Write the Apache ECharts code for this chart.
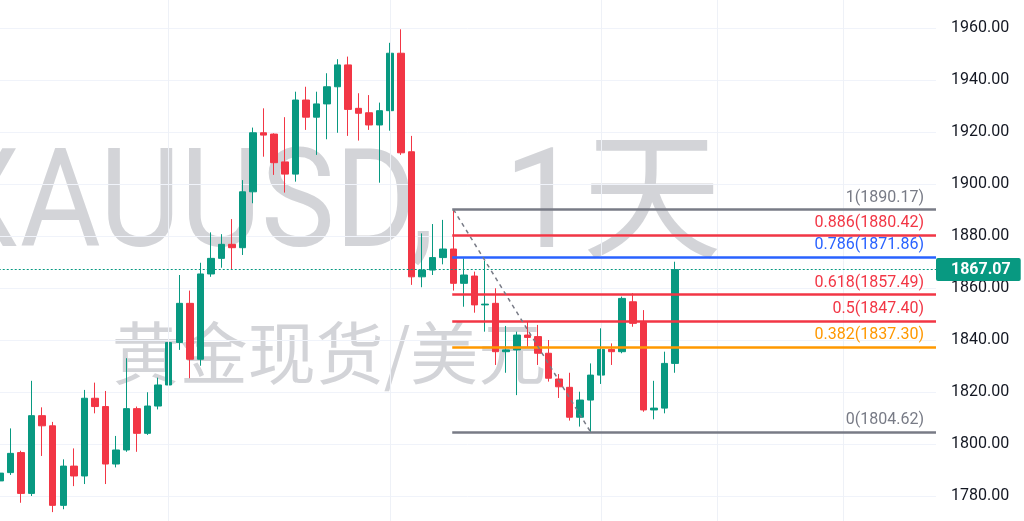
<!DOCTYPE html>
<html>
<head>
<meta charset="utf-8">
<script src="https://cdn.jsdelivr.net/npm/echarts@6/dist/echarts.min.js"></script>
<style>
html,body{margin:0;padding:0;background:#fff;}
#chart{width:1024px;height:521px;}
</style>
</head>
<body>
<div id="chart"></div>
<script>
// Daily candles (index 0 = leftmost visible candle)
const opens  = [1785.8,1789.0,1796.7,1781.0,1810.9,1807.0,1776.4,1791.5,1787.7,1817.6,
                1814.4,1792.3,1797.7,1813.6,1804.1,1814.6,1822.7,1839.0,1854.1,1832.6,
                1865.4,1871.4,1876.8,1875.5,1897.0,1919.7,1919.2,1908.5,1903.8,1932.3,
                1925.7,1930.8,1937.4,1945.8,1929.1,1927.4,1922.7,1928.2,1950.3,1912.4,
                1864.3,1866.9,1871.7,1875.0,1861.8,1864.6,1853.5,1854.1,1835.5,1836.2,
                1841.9,1841.3,1834.9,1825.0,1821.8,1810.3,1816.9,1826.5,1836.4,1835.5,
                1854.7,1846.7,1813.1,1813.8,1831.0];
const closes = [1788.8,1796.4,1781.0,1810.9,1807.0,1776.4,1791.5,1787.7,1817.6,1814.4,
                1792.3,1797.7,1813.6,1804.1,1814.6,1822.7,1839.0,1854.1,1832.6,1865.4,
                1871.4,1876.8,1875.5,1897.0,1919.7,1918.8,1908.2,1903.8,1932.3,1925.7,
                1930.8,1937.4,1945.8,1928.7,1927.2,1922.7,1928.2,1950.3,1912.0,1864.3,
                1866.9,1871.7,1875.0,1861.8,1865.0,1853.5,1853.8,1835.5,1836.2,1841.9,
                1841.0,1834.9,1825.3,1822.0,1810.3,1816.9,1826.5,1836.4,1835.5,1856.0,
                1846.4,1813.1,1813.8,1831.0,1867.07];
const lows   = [1782.3,1788.1,1777.4,1780.0,1795.4,1773.8,1774.9,1783.8,1784.6,1811.8,
                1784.6,1791.0,1797.0,1797.0,1803.5,1813.3,1822.5,1836.2,1825.3,1830.1,
                1864.3,1867.8,1867.2,1872.7,1892.6,1910.5,1903.5,1896.7,1900.9,1920.8,
                1911.2,1917.2,1919.7,1918.5,1916.7,1920.8,1900.5,1920.5,1911.2,1861.2,
                1860.3,1865.0,1869.1,1859.0,1852.8,1850.5,1843.2,1830.4,1827.4,1818.8,
                1837.4,1830.4,1824.0,1817.7,1809.0,1806.7,1804.62,1823.1,1830.4,1834.9,
                1845.1,1812.4,1809.5,1811.8,1827.4];
const highs  = [1794.6,1806.0,1797.4,1824.3,1814.1,1808.5,1794.1,1798.3,1820.8,1823.6,
                1820.4,1803.1,1833.0,1814.4,1819.9,1825.5,1849.6,1865.0,1859.0,1869.7,
                1881.4,1880.7,1886.5,1901.5,1921.7,1929.1,1919.5,1925.7,1935.5,1937.4,
                1935.5,1942.6,1948.0,1949.0,1934.9,1934.2,1931.3,1954.3,1959.5,1918.5,
                1881.0,1884.6,1886.2,1890.17,1871.4,1866.3,1870.4,1859.9,1845.4,1843.2,
                1847.0,1845.8,1840.0,1826.9,1827.4,1820.1,1831.0,1844.5,1838.7,1856.7,
                1858.0,1851.5,1824.3,1835.5,1870.1];

// Fibonacci retracement (from candle 43 high to candle 56 low)
const fibRatios = ['1','0.886','0.786','0.618','0.5','0.382','0'];
const fibLevels = [1890.17,1880.42,1871.86,1857.49,1847.40,1837.30,1804.62];
const fibStartIndex = 43;
const swingLowIndex = 56;
const lastPrice = 1867.07;
const timeGridIdx = [16,37,57,68,80];

// y-axis ticks
const yMin = 1760, yMax = 1980, yStep = 20;

const fibColors = ['#787b86','#f23645','#2962ff','#f23645','#f23645','#ff9800','#787b86'];
const UP = '#089981', DOWN = '#f23645';
const WM = 'rgba(150,153,162,0.42)';

const candleData = opens.map((o, i) => [i, o, closes[i], lows[i], highs[i]]);

const xMin = -0.5, xMax = 88.75;

const markLines = [];
timeGridIdx.forEach(v => markLines.push({
  xAxis: v, lineStyle: {color: '#eef1f7', width: 1, type: 'solid'}, label: {show: false}
}));
fibLevels.forEach((lv, k) => {
  const ls = {color: fibColors[k], width: 2.5, type: 'solid'};
  markLines.push([
    {coord: [fibStartIndex - 0.12, lv], lineStyle: ls,
     label: {show: true, position: 'insideEndTop', distance: [12, 4],
             formatter: fibRatios[k] + '(' + lv.toFixed(2) + ')',
             color: fibColors[k], fontSize: 16, fontFamily: 'Roboto'}},
    {coord: [xMax, lv], lineStyle: ls}
  ]);
});
markLines.push([
  {coord: [fibStartIndex, fibLevels[0]], lineStyle: {color: '#787b86', width: 1.5, type: [4, 4]}, label: {show: false}},
  {coord: [swingLowIndex, fibLevels[6]], lineStyle: {color: '#787b86', width: 1.5, type: [4, 4]}}
]);
markLines.push({
  yAxis: lastPrice,
  lineStyle: {color: UP, width: 1, type: [2, 2]},
  label: {show: true, position: 'end', distance: 0, formatter: lastPrice.toFixed(2),
          backgroundColor: UP, color: '#fff', fontSize: 16, fontWeight: 'bold',
          fontFamily: 'Roboto', padding: [4, 10, 3, 15], borderRadius: 2}
});

const chart = echarts.init(document.getElementById('chart'), null, {renderer: 'canvas'});
chart.setOption({
  animation: false,
  backgroundColor: '#ffffff',
  grid: {left: -5.27, top: -24, width: 941.27, height: 572, containLabel: false, outerBoundsMode: 'none'},
  xAxis: {type: 'value', min: xMin, max: xMax, show: false, splitLine: {show: false}},
  yAxis: {
    type: 'value', position: 'right', min: yMin, max: yMax, interval: yStep, scale: true,
    axisLine: {show: false}, axisTick: {show: false},
    splitLine: {show: true, lineStyle: {color: '#f0f3fa', width: 1}},
    axisLabel: {color: '#131722', fontSize: 16, fontFamily: 'Roboto', margin: 15,
                formatter: v => v.toFixed(2)}
  },
  graphic: [
    {type: 'text', x: -58, y: 211, scaleX: 0.9, z: 0, silent: true,
     style: {text: 'XAUUSD,', font: '138px Roboto', fill: WM, textAlign: 'left', textVerticalAlign: 'middle'}},
    {type: 'text', x: 722, y: 212, z: 0, silent: true,
     style: {text: '1天', font: '140px Roboto, "Noto Sans CJK SC"', fill: WM, textAlign: 'right', textVerticalAlign: 'middle'}},
    {type: 'text', x: 329, y: 353, z: 0, silent: true,
     style: {text: '黄金现货/美元', font: '68px "Noto Sans CJK SC"', fill: WM, textAlign: 'center', textVerticalAlign: 'middle'}}
  ],
  series: [
    {
      type: 'line', data: [], z: 1, clip: false, silent: true,
      markLine: {symbol: ['none', 'none'], silent: true, animation: false, data: markLines}
    },
    {
      type: 'candlestick', data: candleData, encode: {x: 0, y: [1, 2, 3, 4]},
      barWidth: 7, z: 3,
      itemStyle: {color: UP, color0: DOWN, borderColor: UP, borderColor0: DOWN, borderWidth: 1}
    }
  ]
});
</script>
</body>
</html>
